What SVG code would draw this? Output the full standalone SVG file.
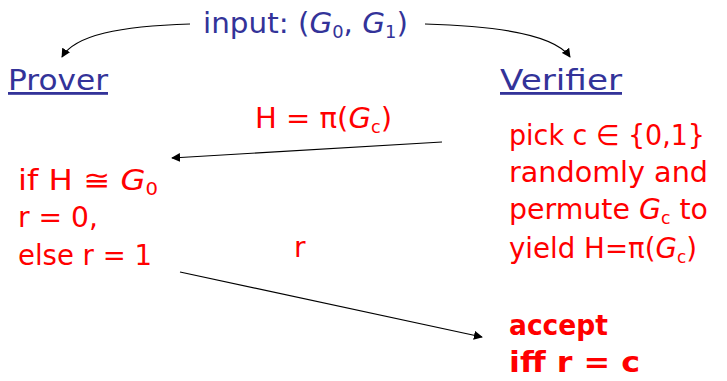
<svg xmlns="http://www.w3.org/2000/svg" width="727" height="381" viewBox="0 0 727 381">
<style>
text{font-family:"DejaVu Sans","Noto Sans",sans-serif;font-size:28px}
.b{fill:#333399}
.r{fill:#ff0000}
.i{font-style:italic}
.s{font-size:17px}
.c{fill:none;stroke:#000;stroke-width:1.2}
</style>
<defs>
<marker id="ah" viewBox="0 0 10 10" refX="9" refY="5" markerWidth="9" markerHeight="9" markerUnits="userSpaceOnUse" orient="auto"><path d="M0,0L10,5L0,10z" fill="#000"/></marker>
</defs>
<g id="connectors">
<path class="c" d="M190,24 C120,26 75,35 62,57" marker-end="url(#ah)"/>
<path class="c" d="M425,24 C500,26 555,35 570,57" marker-end="url(#ah)"/>
<path class="c" d="M442,142 L172,158" marker-end="url(#ah)"/>
<path class="c" d="M180,272 L482,337" marker-end="url(#ah)"/>
</g>
<g id="input"><text class="b" x="203" y="33" textLength="205" lengthAdjust="spacingAndGlyphs">input: (<tspan class="i">G</tspan><tspan class="s" dy="5">0</tspan><tspan dy="-5">, </tspan><tspan class="i">G</tspan><tspan class="s" dy="5">1</tspan><tspan dy="-5">)</tspan></text></g>
<g id="prover"><text class="b" x="8" y="90" textLength="100" lengthAdjust="spacingAndGlyphs" text-decoration="underline">Prover</text></g>
<g id="verifier"><text class="b" x="500" y="90" textLength="122" lengthAdjust="spacingAndGlyphs" text-decoration="underline">Verifier</text></g>
<g id="h-label"><text class="r" x="255" y="128" textLength="137" lengthAdjust="spacingAndGlyphs">H = π(<tspan class="i">G</tspan><tspan class="s" dy="5">c</tspan><tspan dy="-5">)</tspan></text></g>
<g id="prover-step"><text class="r" x="18" y="190" textLength="140" lengthAdjust="spacingAndGlyphs">if H ≅ <tspan class="i">G</tspan><tspan class="s" dy="5">0</tspan></text>
<text class="r" x="18" y="227" textLength="80" lengthAdjust="spacingAndGlyphs">r = 0,</text>
<text class="r" x="18" y="265" textLength="134" lengthAdjust="spacingAndGlyphs">else r = 1</text></g>
<g id="r-label"><text class="r" x="294" y="257">r</text></g>
<g id="verifier-step"><text class="r" x="509" y="145" textLength="196" lengthAdjust="spacingAndGlyphs">pick c ∈ {0,1}</text>
<text class="r" x="509" y="182" textLength="199" lengthAdjust="spacingAndGlyphs">randomly and</text>
<text class="r" x="509" y="219" textLength="199" lengthAdjust="spacingAndGlyphs">permute <tspan class="i">G</tspan><tspan class="s" dy="5">c</tspan><tspan dy="-5">  to</tspan></text>
<text class="r" x="509" y="258" textLength="188" lengthAdjust="spacingAndGlyphs">yield H=π(<tspan class="i">G</tspan><tspan class="s" dy="5">c</tspan><tspan dy="-5">)</tspan></text></g>
<g id="accept"><text class="r" x="509" y="335" textLength="99" lengthAdjust="spacingAndGlyphs" font-weight="bold">accept</text>
<text class="r" x="509" y="372" textLength="131" lengthAdjust="spacingAndGlyphs" font-weight="bold">iff r = c</text></g>
</svg>
